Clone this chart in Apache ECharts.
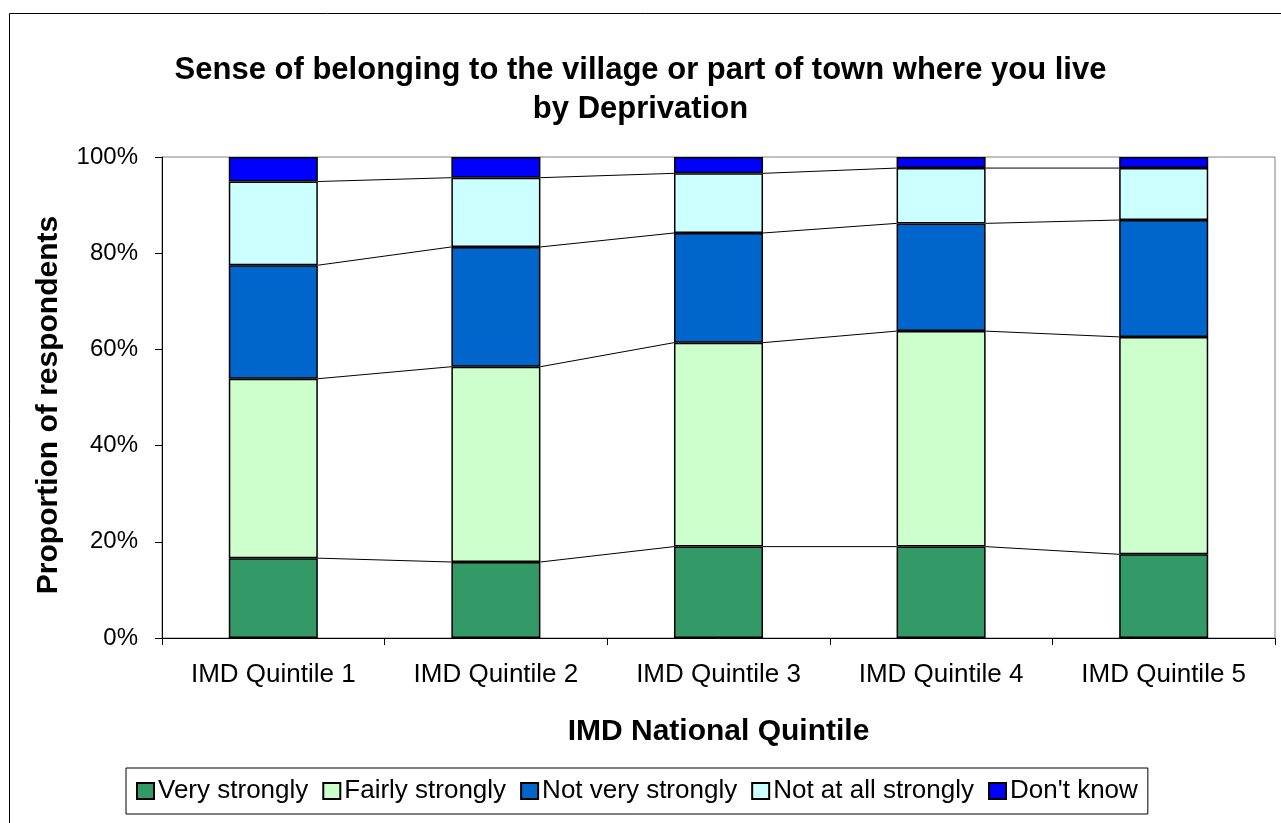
<!DOCTYPE html>
<html>
<head>
<meta charset="utf-8">
<script src="https://cdn.jsdelivr.net/npm/echarts@6/dist/echarts.min.js"></script>
<style>
html,body{margin:0;padding:0;background:#fff;}
#chart{width:1281px;height:823px;}
</style>
</head>
<body>
<div id="chart"></div>
<script>
const categories = ['IMD Quintile 1','IMD Quintile 2','IMD Quintile 3','IMD Quintile 4','IMD Quintile 5'];
const seriesNames = ['Very strongly','Fairly strongly','Not very strongly','Not at all strongly',"Don't know"];
const veryStrongly = [16.6, 15.8, 19.0, 19.0, 17.4];
const fairlyStrongly = [37.3, 40.6, 42.4, 44.8, 45.2];
const notVeryStrongly = [23.6, 24.9, 22.8, 22.4, 24.3];
const notAtAllStrongly = [17.4, 14.4, 12.4, 11.5, 10.8];
const dontKnow = [5.1, 4.3, 3.4, 2.3, 2.3];
const yTicks = [0, 20, 40, 60, 80, 100];
const colors = ['#339966','#CCFFCC','#0066CC','#CCFFFF','#0000FF'];

const allValues = [veryStrongly, fairlyStrongly, notVeryStrongly, notAtAllStrongly, dontKnow];
// cumulative tops for series lines
const cumLevels = [];
{
  let run = categories.map(() => 0);
  for (let s = 0; s < allValues.length - 1; s++) {
    run = run.map((v, i) => v + allValues[s][i]);
    cumLevels.push(run.slice());
  }
}
const FONT = "'Liberation Sans', Arial, sans-serif";
const BAR_FRAC = 0.4;

const chart = echarts.init(document.getElementById('chart'));
const barSeries = seriesNames.map((name, s) => ({
  name: name,
  type: 'bar',
  stack: 'total',
  barWidth: (BAR_FRAC * 100) + '%',
  data: allValues[s],
  itemStyle: { color: colors[s], borderColor: '#000', borderWidth: 1.5 },
  emphasis: { disabled: true },
  z: 3
}));

const linesSeries = {
  type: 'custom',
  name: 'serieslines',
  data: categories.slice(0, -1).map((c, i) => [i]),
  encode: { x: 0 },
  silent: true,
  z: 2,
  renderItem: function (params, api) {
    const i = api.value(0);
    const bw = api.size([1, 0])[0];
    const half = bw * BAR_FRAC / 2;
    const children = cumLevels.map(level => {
      const p1 = api.coord([i, level[i]]);
      const p2 = api.coord([i + 1, level[i + 1]]);
      return {
        type: 'line',
        shape: { x1: p1[0] + half, y1: p1[1], x2: p2[0] - half, y2: p2[1] },
        style: { stroke: '#000', lineWidth: 1 }
      };
    });
    return { type: 'group', children: children };
  }
};

chart.setOption({
  animation: false,
  title: {
    text: 'Sense of belonging to the village or part of town where you live\nby Deprivation',
    left: 'center',
    top: 46,
    textStyle: { fontFamily: FONT, fontSize: 31, fontWeight: 'bold', color: '#000', lineHeight: 39 }
  },
  legend: {
    data: seriesNames,
    left: 126,
    top: 768,
    padding: [10, 10],
    itemGap: 14,
    itemWidth: 17,
    itemHeight: 16,
    borderColor: '#000',
    borderWidth: 1,
    icon: 'rect',
    textStyle: { fontFamily: FONT, fontSize: 26, color: '#000', padding: [2, 0, 0, -1] },
    selectedMode: false
  },
  grid: {
    left: 162,
    right: 6,
    top: 157,
    bottom: 185,
    show: true,
    borderColor: '#808080',
    borderWidth: 1,
    containLabel: false
  },
  xAxis: {
    type: 'category',
    data: categories,
    name: 'IMD National Quintile',
    nameLocation: 'middle',
    nameGap: 79,
    nameTextStyle: { fontFamily: FONT, fontSize: 30, fontWeight: 'bold', color: '#000' },
    axisLine: { lineStyle: { color: '#000', width: 1 } },
    axisTick: { show: true, length: 7, inside: false, alignWithLabel: false, lineStyle: { color: '#000' } },
    axisLabel: { fontFamily: FONT, fontSize: 26, color: '#000', margin: 24 },
    splitLine: { show: false }
  },
  yAxis: {
    type: 'value',
    min: yTicks[0],
    max: yTicks[yTicks.length - 1],
    interval: yTicks[1] - yTicks[0],
    axisLine: { show: true, lineStyle: { color: '#000', width: 1 } },
    axisTick: { show: true, length: 7, lineStyle: { color: '#000' } },
    axisLabel: { fontFamily: FONT, fontSize: 24, color: '#000', margin: 24, formatter: '{value}%' },
    splitLine: { show: false }
  },
  graphic: [{
    type: 'rect',
    shape: { x: 9.5, y: 13.5, width: 1300, height: 850 },
    style: { fill: 'none', stroke: '#000', lineWidth: 1 },
    silent: true,
    z: -10
  }, {
    type: 'text',
    x: 49,
    y: 405,
    rotation: Math.PI / 2,
    style: {
      text: 'Proportion of respondents',
      fontFamily: FONT,
      fontSize: 30,
      fontWeight: 'bold',
      fill: '#000',
      align: 'center',
      verticalAlign: 'middle'
    },
    silent: true
  }],
  series: barSeries.concat([linesSeries])
});
</script>
</body>
</html>
